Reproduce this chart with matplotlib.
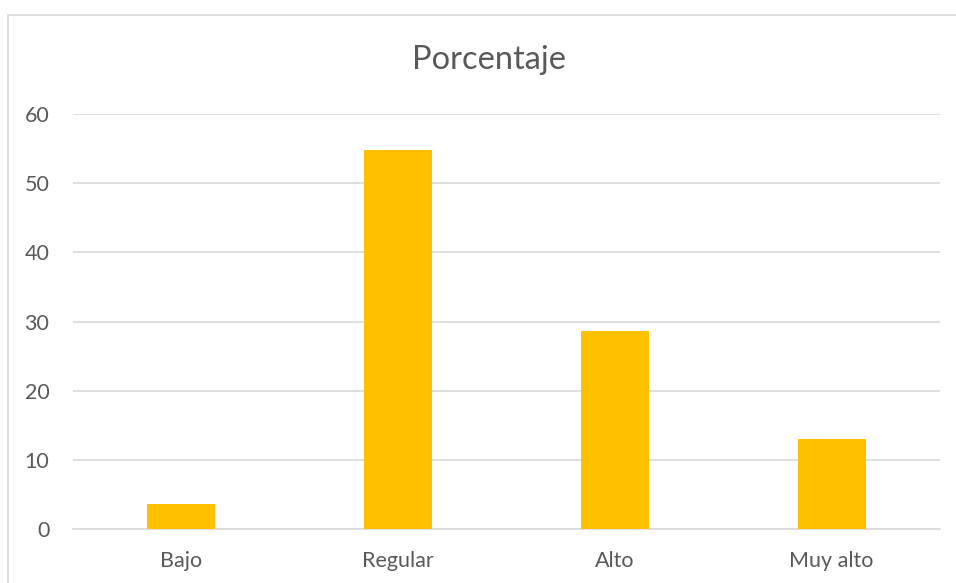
import matplotlib
matplotlib.use("Agg")
import matplotlib.pyplot as plt
from matplotlib.patches import Rectangle

categories = ["Bajo", "Regular", "Alto", "Muy alto"]
porcentaje = [3.6, 54.8, 28.6, 13.0]
y_ticks = [0, 10, 20, 30, 40, 50, 60]

TEXT = "#595959"
GRID = "#d9d9d9"
BAR = "#ffc000"

plt.rcParams.update({
    "font.family": ["Lato", "DejaVu Sans"],
    "font.size": 15.5,
})

fig = plt.figure(figsize=(9.56, 5.83), dpi=100)
fig.patch.set_facecolor("white")

# outer chart frame (only left/top visible in the reference)
fig.patches.append(Rectangle((8 / 956, -0.1), 1.5, 1 - 15 / 583 + 0.1,
                             transform=fig.transFigure, fill=False,
                             edgecolor=GRID, linewidth=1.2))

ax = fig.add_axes([73 / 956, 54 / 583, 867 / 956, 415 / 583])
x = range(len(categories))
ax.bar(x, porcentaje, width=0.313, color=BAR, zorder=3)

ax.set_xlim(-0.5, len(categories) - 0.5)
ax.set_ylim(0, 60)
ax.set_yticks(y_ticks)
ax.set_xticks(list(x))
ax.set_xticklabels(categories)
ax.yaxis.grid(True, color=GRID, linewidth=1.2, zorder=0)
ax.set_axisbelow(True)
for side in ["top", "right", "left"]:
    ax.spines[side].set_visible(False)
ax.spines["bottom"].set_color(GRID)
ax.spines["bottom"].set_linewidth(1.2)
ax.tick_params(axis="both", length=0, colors=TEXT, labelsize=15.5)
ax.tick_params(axis="y", pad=17)
ax.tick_params(axis="x", pad=16)

fig.text(489 / 956, 1 - 60 / 583, "Porcentaje", ha="center", va="center",
         fontsize=23.5, color=TEXT)

fig.savefig("out.png", dpi=100, facecolor="white")
